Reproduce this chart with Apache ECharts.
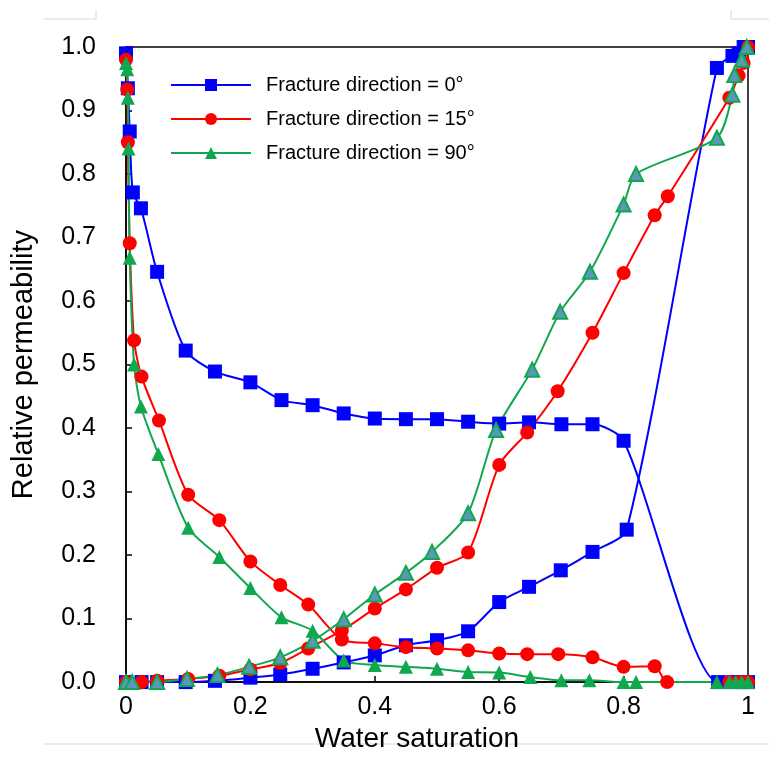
<!DOCTYPE html>
<html>
<head>
<meta charset="utf-8">
<title>Relative permeability curves</title>
<script src="https://cdn.jsdelivr.net/npm/echarts@6/dist/echarts.min.js"></script>
<style>
  html, body { margin: 0; padding: 0; background: #ffffff; }
  #chart { width: 769px; height: 758px; }
</style>
</head>
<body>
<div id="chart"></div>
<script>
// Legend labels
const seriesNames = ['Fracture direction = 0°', 'Fracture direction = 15°', 'Fracture direction = 90°'];

// Axis tick values
const xTicks = [0, 0.2, 0.4, 0.6, 0.8, 1];
const yTicks = [0, 0.1, 0.2, 0.3, 0.4, 0.5, 0.6, 0.7, 0.8, 0.9, 1.0];

// Fracture direction 0° — oil phase (decreasing branch)
const dir0OilSw = [0, 0.003, 0.006, 0.011, 0.024, 0.05, 0.096, 0.143, 0.2, 0.25, 0.3, 0.35, 0.4, 0.45, 0.5, 0.55, 0.6, 0.648, 0.7, 0.75, 0.8, 0.952, 0.975, 0.99, 1.0];
const dir0OilKr = [0.99, 0.935, 0.867, 0.771, 0.746, 0.646, 0.522, 0.489, 0.472, 0.444, 0.436, 0.423, 0.415, 0.414, 0.414, 0.41, 0.407, 0.409, 0.406, 0.406, 0.38, 0, 0, 0, 0];

// Fracture direction 0° — water phase (increasing branch)
const dir0WaterSw = [0, 0.025, 0.05, 0.096, 0.143, 0.2, 0.248, 0.3, 0.35, 0.4, 0.45, 0.5, 0.55, 0.6, 0.648, 0.699, 0.75, 0.805, 0.95, 0.975, 0.985, 0.993, 1.0];
const dir0WaterKr = [0, 0, 0, 0, 0.002, 0.007, 0.012, 0.021, 0.031, 0.042, 0.058, 0.066, 0.08, 0.126, 0.15, 0.176, 0.205, 0.24, 0.967, 0.986, 0.99, 1.0, 1.0];

// Fracture direction 15° — oil phase
const dir15OilSw = [0, 0.002, 0.003, 0.006, 0.013, 0.025, 0.053, 0.1, 0.15, 0.2, 0.248, 0.293, 0.347, 0.4, 0.45, 0.5, 0.55, 0.6, 0.645, 0.695, 0.75, 0.8, 0.85, 0.87, 0.97, 0.985, 0.995, 1.0];
const dir15OilKr = [0.98, 0.933, 0.85, 0.691, 0.538, 0.481, 0.412, 0.295, 0.255, 0.19, 0.153, 0.122, 0.067, 0.061, 0.055, 0.053, 0.05, 0.045, 0.044, 0.044, 0.039, 0.024, 0.025, 0, 0, 0, 0, 0];

// Fracture direction 15° — water phase
const dir15WaterSw = [0, 0.025, 0.05, 0.1, 0.15, 0.2, 0.248, 0.293, 0.347, 0.4, 0.45, 0.5, 0.55, 0.6, 0.645, 0.694, 0.75, 0.8, 0.85, 0.871, 0.97, 0.985, 0.993, 1.0];
const dir15WaterKr = [0, 0, 0.002, 0.005, 0.01, 0.02, 0.03, 0.053, 0.081, 0.116, 0.146, 0.18, 0.204, 0.342, 0.393, 0.458, 0.55, 0.644, 0.735, 0.765, 0.92, 0.955, 0.975, 1.0];

// Fracture direction 90° — oil phase
const dir90OilSw = [0, 0.002, 0.003, 0.004, 0.006, 0.013, 0.024, 0.052, 0.1, 0.15, 0.2, 0.25, 0.3, 0.35, 0.4, 0.45, 0.5, 0.55, 0.6, 0.65, 0.7, 0.745, 0.8, 0.82, 0.95, 0.97, 0.98, 0.99, 1.0];
const dir90OilKr = [0.975, 0.965, 0.92, 0.84, 0.668, 0.5, 0.434, 0.359, 0.243, 0.197, 0.148, 0.102, 0.081, 0.034, 0.027, 0.024, 0.021, 0.016, 0.015, 0.008, 0.003, 0.003, 0, 0, 0, 0, 0, 0, 0];

// Fracture direction 90° — water phase
const dir90WaterSw = [0, 0.01, 0.05, 0.098, 0.147, 0.198, 0.248, 0.3, 0.35, 0.4, 0.45, 0.492, 0.55, 0.595, 0.653, 0.698, 0.746, 0.8, 0.82, 0.95, 0.975, 0.978, 0.99, 0.998];
const dir90WaterKr = [0, 0, 0, 0.005, 0.011, 0.024, 0.039, 0.065, 0.099, 0.138, 0.172, 0.205, 0.266, 0.397, 0.492, 0.583, 0.646, 0.752, 0.8, 0.857, 0.925, 0.956, 0.98, 1.0];

const BLUE = '#0000ff';
const RED = '#ff0000';
const GREEN = '#10a84e';
const STEEL = '#5a97b8';

function pairs(xs, ys) {
  return xs.map((x, i) => [x, ys[i]]);
}

function curve(name, xs, ys, color, symbol, size, fill, borderW) {
  return {
    name: name,
    type: 'line',
    data: pairs(xs, ys),
    smooth: 0.25,
    clip: false,
    symbol: symbol,
    symbolSize: size,
    showAllSymbol: true,
    lineStyle: { color: color, width: 2 },
    itemStyle: { color: fill, borderColor: color, borderWidth: borderW },
    emphasis: { disabled: true },
    animation: false
  };
}

const chart = echarts.init(document.getElementById('chart'), null, { renderer: 'canvas' });

const FONT = 'Liberation Sans, Arial, sans-serif';

chart.setOption({
  backgroundColor: '#ffffff',
  animation: false,
  textStyle: { fontFamily: FONT },
  graphic: [
    { type: 'line', shape: { x1: 44, y1: 19, x2: 96, y2: 19 }, style: { stroke: '#d6d6d6', lineWidth: 1 } },
    { type: 'line', shape: { x1: 96, y1: 10, x2: 96, y2: 19 }, style: { stroke: '#d6d6d6', lineWidth: 1 } },
    { type: 'line', shape: { x1: 731, y1: 19, x2: 769, y2: 19 }, style: { stroke: '#d6d6d6', lineWidth: 1 } },
    { type: 'line', shape: { x1: 731, y1: 10, x2: 731, y2: 19 }, style: { stroke: '#d6d6d6', lineWidth: 1 } },
    { type: 'line', z: -1, shape: { x1: 44, y1: 744, x2: 769, y2: 744 }, style: { stroke: '#d6d6d6', lineWidth: 1 } }
  ],
  grid: {
    left: 126, right: 21, top: 47, bottom: 73,
    show: true, borderColor: '#000000', borderWidth: 1.5,
    containLabel: false
  },
  legend: {
    data: seriesNames,
    orient: 'vertical',
    left: 165, top: 70,
    itemWidth: 80, itemHeight: 15, itemGap: 14,
    textStyle: { fontSize: 20, color: '#000000', fontFamily: FONT, padding: [0, 0, 0, 10] },
    selectedMode: false
  },
  xAxis: {
    type: 'value',
    min: 0, max: 1, interval: 0.2,
    name: 'Water saturation',
    nameLocation: 'middle',
    nameGap: 42,
    nameTextStyle: { fontSize: 28, color: '#000000', fontFamily: FONT, padding: [0, 40, 0, 0] },
    axisLine: { show: true, lineStyle: { color: '#000000', width: 1.5 } },
    axisTick: { show: true, inside: true, length: 6, lineStyle: { color: '#000000', width: 1.5 } },
    splitLine: { show: false },
    axisLabel: {
      fontSize: 25, color: '#000000', margin: 13, fontFamily: FONT,
      formatter: v => (xTicks.includes(Math.round(v * 10) / 10) ? (v === 0 ? '0' : v === 1 ? '1' : v.toFixed(1)) : '')
    }
  },
  yAxis: {
    type: 'value',
    min: 0, max: 1, interval: 0.1,
    name: 'Relative permeability',
    nameLocation: 'middle',
    nameGap: 88,
    nameRotate: 90,
    nameTextStyle: { fontSize: 29, color: '#000000', fontFamily: FONT },
    axisLine: { show: true, lineStyle: { color: '#000000', width: 1.5 } },
    axisTick: { show: true, inside: true, length: 6, lineStyle: { color: '#000000', width: 1.5 } },
    splitLine: { show: false },
    axisLabel: {
      fontSize: 25, color: '#000000', margin: 30, fontFamily: FONT,
      formatter: v => (yTicks.includes(Math.round(v * 10) / 10) ? v.toFixed(1) : '')
    }
  },
  series: [
    curve(seriesNames[0], dir0OilSw, dir0OilKr, BLUE, 'rect', 14, BLUE, 0),
    curve(seriesNames[0], dir0WaterSw, dir0WaterKr, BLUE, 'rect', 14, BLUE, 0),
    curve(seriesNames[1], dir15OilSw, dir15OilKr, RED, 'circle', 14, RED, 0),
    curve(seriesNames[1], dir15WaterSw, dir15WaterKr, RED, 'circle', 14, RED, 0),
    curve(seriesNames[2], dir90OilSw, dir90OilKr, GREEN, 'triangle', 14, GREEN, 0),
    curve(seriesNames[2], dir90WaterSw, dir90WaterKr, GREEN, 'triangle', 14, STEEL, 2)
  ]
});
</script>
</body>
</html>
